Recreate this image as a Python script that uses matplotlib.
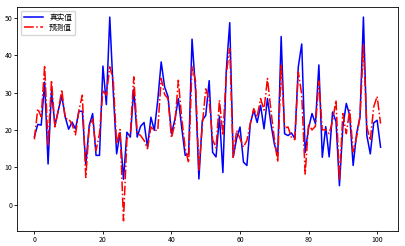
import matplotlib
matplotlib.use("Agg")
import matplotlib.pyplot as plt
import numpy as np

plt.rcParams['font.family'] = ['Noto Sans CJK SC', 'DejaVu Sans']
plt.rcParams['axes.unicode_minus'] = False

true_vals = [18.2, 21.5, 21.3, 32.8, 10.9, 30.4, 21.2, 25.3, 29.1, 23.5,
             20.2, 22.1, 20.3, 25.0, 25.0, 10.7, 21.2, 24.4, 13.2, 13.2,
             37.1, 26.8, 50.2, 30.5, 13.6, 19.3, 6.8, 19.4, 18.1, 30.9,
             18.1, 21.0, 22.0, 15.4, 23.4, 19.9, 28.0, 38.2, 31.5, 28.9,
             19.0, 22.8, 28.4, 20.5, 13.2, 13.6, 44.3, 31.0, 6.9, 22.6,
             23.9, 33.2, 14.0, 12.8, 23.7, 8.6, 36.0, 48.7, 12.7, 17.7,
             20.8, 11.4, 10.5, 21.7, 25.3, 22.0, 26.6, 20.3, 28.4, 21.7,
             16.3, 13.2, 45.0, 19.0, 18.5, 19.2, 17.7, 36.9, 43.0, 14.0,
             20.5, 24.4, 21.7, 37.4, 12.7, 20.9, 12.8, 24.8, 22.3, 5.1,
             20.8, 27.1, 23.9, 10.5, 19.0, 23.5, 50.2, 18.5, 13.6, 21.9,
             22.6, 15.4]

pred_vals = [17.5, 25.7, 23.5, 37.3, 15.8, 33.3, 20.8, 25.3, 30.8, 23.0,
             23.0, 21.5, 18.7, 25.3, 29.3, 7.3, 20.8, 23.0, 14.5, 19.0,
             30.6, 29.3, 36.9, 33.5, 16.3, 20.1, -4.3, 17.6, 19.0, 34.2,
             19.2, 18.5, 17.2, 15.0, 20.8, 19.9, 19.9, 33.8, 29.5, 28.4,
             17.9, 21.7, 33.3, 23.0, 15.2, 11.2, 37.0, 33.3, 9.3, 21.2,
             31.0, 28.0, 17.4, 15.2, 28.0, 18.5, 35.1, 41.8, 12.7, 19.9,
             17.7, 15.4, 17.2, 21.7, 25.7, 23.5, 28.4, 25.3, 33.8, 25.3,
             17.7, 11.4, 37.5, 20.5, 20.8, 18.0, 17.4, 35.5, 29.5, 8.2,
             21.7, 20.0, 21.0, 33.1, 20.0, 20.1, 19.0, 22.4, 28.0, 6.5,
             24.4, 19.0, 25.3, 14.1, 18.1, 23.5, 42.7, 20.8, 17.2, 26.2,
             29.0, 21.7]

labels = ['真实值', '预测值']
x = np.arange(len(true_vals))

fig = plt.figure(figsize=(4.06, 2.46), dpi=100)
ax = fig.add_axes([0.042, 0.061, 0.938, 0.911])
ax.plot(x, true_vals, color='blue', lw=1.1, label=labels[0])
ax.plot(x, pred_vals, color='red', lw=1.1, ls='-.', label=labels[1])
ax.set_xticks([0, 20, 40, 60, 80, 100])
ax.set_yticks([0, 10, 20, 30, 40, 50])
ax.tick_params(labelsize=5, length=2, width=0.6, pad=1.5)
for s in ax.spines.values():
    s.set_linewidth(0.6)
ax.legend(loc='upper left', fontsize=5.5, handlelength=2.5, borderpad=0.4,
          labelspacing=0.3, frameon=True)
fig.savefig('out.png', dpi=100)
